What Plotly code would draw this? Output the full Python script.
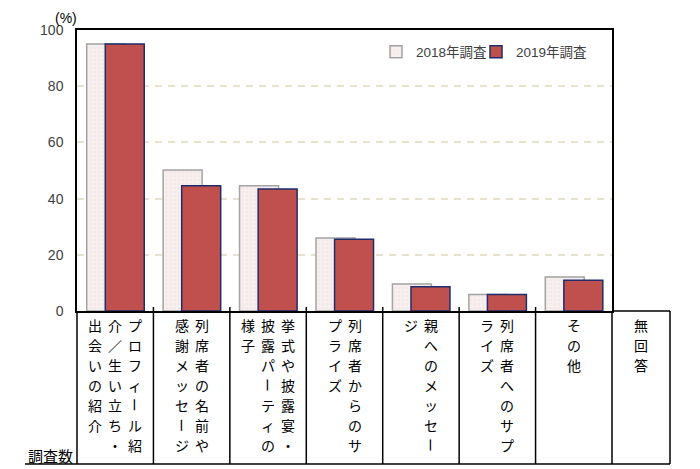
import plotly.graph_objects as go

categories = [
    "プロフィール紹介／生い立ち・出会いの紹介",
    "列席者の名前や感謝メッセージ",
    "挙式や披露宴・披露パーティの様子",
    "列席者からのサプライズ",
    "親へのメッセージ",
    "列席者へのサプライズ",
    "その他",
]
extra_category = "無回答"
row_label = "調査数"
series_names = ["2018年調査", "2019年調査"]
values_2018 = [95.0, 50.2, 44.6, 26.0, 9.6, 5.9, 12.1]
values_2019 = [95.0, 44.6, 43.4, 25.5, 8.6, 5.9, 10.9]
y_ticks = [0, 20, 40, 60, 80, 100]

# ---- layout geometry (pixels in the 700x469 window) ----
PAGE = 8  # default body margin of the html page
W, H = 700 - PAGE, 469 - PAGE
L, R, T, B = 77, 612, 30, 311
TABLE_BOTTOM = 464
EXTRA_RIGHT = 670
ROW_LEFT = 25


def px(xp):
    return (xp - L) / (R - L)


def py(yp):
    return (B - yp) / (B - T)


fig = go.Figure()
fig.add_trace(go.Bar(
    name=series_names[0], x=list(range(len(categories))), y=values_2018,
    width=0.51, offset=-0.373, legend="legend",
    marker=dict(color="#F7EEEE", line=dict(color="#A3A3A3", width=1.5),
                pattern=dict(shape=".", fgcolor="#E8D3D3", size=4, solidity=0.15)),
    hovertext=categories,
))
fig.add_trace(go.Bar(
    name=series_names[1], x=list(range(len(categories))), y=values_2019,
    width=0.51, offset=-0.13, legend="legend2",
    marker=dict(color="#C0504D", line=dict(color="#1F2D6B", width=1.5)),
    hovertext=categories,
))

shapes = []
ncat = len(categories)
colw = (R - L) / ncat
line = dict(color="black", width=1.5)
for k in range(ncat + 1):
    xp = L + k * colw
    shapes.append(dict(type="line", xref="paper", yref="paper",
                       x0=px(xp), x1=px(xp), y0=py(B - 4 if 0 < k < ncat else B),
                       y1=py(TABLE_BOTTOM), line=line))
shapes.append(dict(type="line", xref="paper", yref="paper",
                   x0=px(EXTRA_RIGHT), x1=px(EXTRA_RIGHT), y0=py(B), y1=py(TABLE_BOTTOM), line=line))
shapes.append(dict(type="line", xref="paper", yref="paper",
                   x0=px(R), x1=px(EXTRA_RIGHT), y0=py(B), y1=py(B), line=line))
shapes.append(dict(type="line", xref="paper", yref="paper",
                   x0=px(ROW_LEFT), x1=px(EXTRA_RIGHT), y0=py(TABLE_BOTTOM), y1=py(TABLE_BOTTOM), line=line))

annotations = []
CJK = "Noto Sans CJK JP"
LAT = "Liberation Sans, Arial, Noto Sans CJK JP"


def vertical_label(text, cx):
    chars = list(text)
    cols = [chars[i:i + 7] for i in range(0, len(chars), 7)]
    n = len(cols)
    pitch_x, pitch_y = 20, 20
    for ci, col in enumerate(cols):
        xcen = cx + ((n - 1) / 2 - ci) * pitch_x
        for ri, ch in enumerate(col):
            ycen = 325 + ri * pitch_y
            annotations.append(dict(
                xref="paper", yref="paper", x=px(xcen), y=py(ycen),
                text=ch, showarrow=False, xanchor="center", yanchor="middle",
                textangle=90 if ch == "ー" else 0,
                font=dict(family=CJK, size=14, color="black")))


for i, cat in enumerate(categories):
    vertical_label(cat, L + (i + 0.5) * colw)
vertical_label(extra_category, (R + EXTRA_RIGHT) / 2)

annotations.append(dict(xref="paper", yref="paper", x=px(75), y=py(455),
                        text=row_label, showarrow=False, xanchor="right", yanchor="middle",
                        font=dict(family=CJK, size=15, color="black")))
annotations.append(dict(xref="paper", yref="paper", x=px(66), y=py(PAGE),
                        text="(%)", showarrow=False, xanchor="center", yanchor="top",
                        font=dict(family=LAT, size=14, color="black")))

legend_style = dict(orientation="h", xanchor="left", y=py(52), yanchor="middle",
                    font=dict(family=LAT, size=13.5, color="#404040"),
                    bgcolor="rgba(0,0,0,0)", itemwidth=30)

fig.update_layout(
    width=W, height=H,
    margin=dict(l=L - PAGE, r=700 - R, t=T - PAGE, b=469 - B, pad=0),
    paper_bgcolor="white", plot_bgcolor="white",
    barmode="overlay",
    showlegend=True,
    legend=dict(x=px(376), **legend_style),
    legend2=dict(x=px(476), **legend_style),
    xaxis=dict(range=[-0.5, ncat - 0.5], showticklabels=False, ticks="",
               showgrid=False, zeroline=False, showline=True, mirror=True,
               linecolor="black", linewidth=1.5, fixedrange=True),
    yaxis=dict(range=[0, 100], tickvals=y_ticks, showgrid=True, gridcolor="#E6E2CC",
               griddash="7px,6px", gridwidth=1.5, zeroline=False, showline=True,
               mirror=True, linecolor="black", linewidth=1.5, ticks="",
               ticklabelstandoff=9,
               tickfont=dict(family=LAT, size=14, color="#404040"), fixedrange=True),
    shapes=shapes,
    annotations=annotations,
)

fig.write_html("out.html")
